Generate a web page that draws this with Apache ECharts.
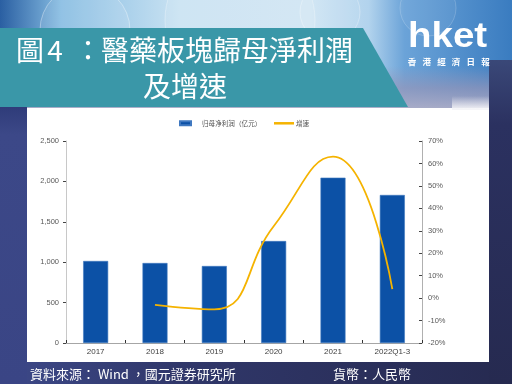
<!DOCTYPE html>
<html><head><meta charset="utf-8">
<script src="https://cdn.jsdelivr.net/npm/echarts@6/dist/echarts.min.js"></script>
<style>html,body{margin:0;padding:0;background:#272a51}#c{width:512px;height:384px}</style>
</head><body><div id="c"></div>
<script>
// ---- data ----
const categories = ['2017', '2018', '2019', '2020', '2021', '2022Q1-3'];
const profit = [1015, 990, 953, 1262, 2046, 1832];      // 归母净利润（亿元）
const growth = [null, -3, -5, 32, 63, 4];               // 增速 (%)
const leftTicks = [0, 500, 1000, 1500, 2000, 2500];
const rightTicks = [-20, -10, 0, 10, 20, 30, 40, 50, 60, 70];
const seriesNames = ['归母净利润（亿元）', '增速'];
const titlePrefix = ['圖', '4', '：'];
const titleMain = '醫藥板塊歸母淨利潤';
const titleLine2 = '及增速';
const sourceText = '資料來源： Wind ，國元證券研究所';
const currencyText = '貨幣：人民幣';
const logoText = 'hket';
const logoSub = ['香', '港', '經', '濟', '日', '報'];

const chart = echarts.init(document.getElementById('c'), null, {renderer: 'canvas'});
const TC = '"Noto Sans CJK TC", "Noto Sans", sans-serif';
const SC = '"Noto Sans CJK SC", "Noto Sans", sans-serif';
const AR = '"Liberation Sans", Arial, sans-serif';

const lg = (x0, y0, x1, y1, stops) => new echarts.graphic.LinearGradient(x0, y0, x1, y1,
  stops.map(c => ({offset: c[0], color: c[1]})));

const graphics = [
  {type: 'rect', z: -100, shape: {x: 0, y: 0, width: 512, height: 384},
    style: {fill: lg(0, 0, 1, 0, [[0, '#3d4989'], [0.35, '#30376a'], [1, '#262a50']])}},
  {type: 'rect', z: -99, shape: {x: 0, y: 0, width: 512, height: 110},
    style: {fill: lg(0, 0, 1, 0, [[0, '#2a5fa2'], [0.12, '#86bce2'], [0.35, '#c9e2f2'], [0.6, '#cfe5f3'], [0.72, '#b2d3ed'], [0.79, '#6ba3d8'], [1, '#3a7cc0']])}},
  {type: 'rect', z: -98, shape: {x: 0, y: 66, width: 512, height: 44},
    style: {fill: lg(0, 0, 0, 1, [[0, 'rgba(150,150,185,0)'], [0.5, 'rgba(150,150,185,0.7)'], [1, 'rgba(175,175,200,0.95)']])}},
  {type: 'circle', z: -97, shape: {cx: 85, cy: 30, r: 45}, style: {fill: 'rgba(255,255,255,0.10)', stroke: 'rgba(255,255,255,0.35)', lineWidth: 1}},
  {type: 'circle', z: -97, shape: {cx: 240, cy: 20, r: 75}, style: {fill: 'rgba(255,255,255,0.10)', stroke: 'rgba(255,255,255,0.3)', lineWidth: 1}},
  {type: 'circle', z: -97, shape: {cx: 330, cy: 12, r: 30}, style: {fill: 'rgba(255,255,255,0.08)', stroke: 'rgba(255,255,255,0.3)', lineWidth: 1}},
  {type: 'circle', z: -97, shape: {cx: 428, cy: 8, r: 28}, style: {fill: 'rgba(255,255,255,0.05)', stroke: 'rgba(255,255,255,0.18)', lineWidth: 1}},
  {type: 'rect', z: -96, shape: {x: 489, y: 60, width: 23, height: 324},
    style: {fill: lg(0, 0, 0, 1, [[0, '#3a4878'], [0.2, '#2b3160'], [1, '#262a50']])}},
  {type: 'rect', z: -95, shape: {x: 0, y: 107, width: 27, height: 277},
    style: {fill: lg(0, 0, 0, 1, [[0, '#2f3c7a'], [0.1, '#3c4888'], [1, '#3a4585']])}},
  {type: 'rect', z: -94, shape: {x: 27, y: 108, width: 462, height: 254}, style: {fill: '#ffffff'}},
  {type: 'rect', z: -93, shape: {x: 452, y: 96, width: 37, height: 14},
    style: {fill: lg(0, 0, 0, 1, [[0, 'rgba(235,235,242,0)'], [1, 'rgba(245,245,248,1)']])}},
  {type: 'polygon', z: -90, shape: {points: [[0, 28], [363, 28], [408, 107], [0, 107]]}, style: {fill: '#3a97a8'}},
  {type: 'text', z: 50, style: {text: titlePrefix[0], x: 16, y: 50, font: '28px ' + TC, fill: '#ffffff', verticalAlign: 'middle'}},
  {type: 'text', z: 50, style: {text: titlePrefix[1], x: 55, y: 50, font: '28px ' + TC, fill: '#ffffff', align: 'center', verticalAlign: 'middle'}},
  {type: 'text', z: 50, style: {text: titlePrefix[2], x: 88, y: 50, font: '28px ' + TC, fill: '#ffffff', align: 'center', verticalAlign: 'middle'}},
  {type: 'text', z: 50, style: {text: titleMain, x: 101, y: 50, font: '28px ' + TC, fill: '#ffffff', verticalAlign: 'middle'}},
  {type: 'text', z: 50, style: {text: titleLine2, x: 185, y: 86, font: '28px ' + TC, fill: '#ffffff', align: 'center', verticalAlign: 'middle'}},
  {type: 'text', z: 50, x: 408, y: 37, scaleX: 1.1, style: {text: logoText, x: 0, y: 0, font: 'bold 35px ' + AR, fill: '#ffffff', verticalAlign: 'middle'}},
  {type: 'text', z: 50, style: {text: sourceText, x: 30, y: 374, font: '13px ' + TC, fill: '#ffffff', verticalAlign: 'middle'}},
  {type: 'text', z: 50, style: {text: currencyText, x: 333, y: 374, font: '13px ' + TC, fill: '#ffffff', verticalAlign: 'middle'}}
];
logoSub.forEach((ch, i) => graphics.push({type: 'text', z: 50,
  style: {text: ch, x: 412 + i * 14.7, y: 62, font: 'bold 8.5px ' + TC, fill: '#ffffff', align: 'center', verticalAlign: 'middle'}}));

chart.setOption({
  animation: false,
  backgroundColor: 'transparent',
  graphic: {elements: graphics},
  legend: [
    {data: [{name: seriesNames[0], icon: 'rect'}], left: 179, top: 120, padding: 0, itemWidth: 11, itemHeight: 4, itemGap: 0,
      textStyle: {fontSize: 6.6, color: '#555', fontFamily: SC, padding: [0, 0, 0, 6]}},
    {data: [{name: seriesNames[1], icon: 'rect'}], left: 274, top: 120, padding: 0, itemWidth: 20, itemHeight: 2.5, itemGap: 0,
      textStyle: {fontSize: 6.6, color: '#555', fontFamily: SC, padding: [0, 0, 0, -3]}}
  ],
  grid: {left: 66, right: 90, top: 141, bottom: 41},
  xAxis: {
    type: 'category', data: categories,
    axisLine: {lineStyle: {color: '#a6a6a6', width: 1}},
    axisTick: {show: true, inside: true, length: 3, lineStyle: {color: '#333'}},
    axisLabel: {fontSize: 8, color: '#404040', margin: 5, fontFamily: AR}
  },
  yAxis: [
    {type: 'value', min: leftTicks[0], max: leftTicks[leftTicks.length - 1], interval: leftTicks[1] - leftTicks[0],
      axisLine: {show: true, lineStyle: {color: '#c8c8c8'}},
      axisTick: {show: true, length: 3, lineStyle: {color: '#444'}},
      splitLine: {show: false},
      axisLabel: {fontSize: 7.5, color: '#595959', margin: 7, fontFamily: AR,
        formatter: v => v.toLocaleString('en-US')}},
    {type: 'value', min: rightTicks[0], max: rightTicks[rightTicks.length - 1], interval: rightTicks[1] - rightTicks[0],
      position: 'right',
      axisLine: {show: true, lineStyle: {color: '#b0b0b0'}},
      axisTick: {show: true, inside: true, length: 3, lineStyle: {color: '#444'}},
      splitLine: {show: false},
      axisLabel: {fontSize: 7.5, color: '#595959', margin: 6, fontFamily: AR, formatter: '{value}%'}}
  ],
  series: [
    {name: seriesNames[0], type: 'bar', data: profit, barWidth: 25, yAxisIndex: 0,
      itemStyle: {color: '#0c51a6', borderColor: '#3f78c0', borderWidth: 0.6}},
    {name: seriesNames[1], type: 'line', data: growth, yAxisIndex: 1, smooth: 0.5,
      showSymbol: false, symbol: 'none', connectNulls: false,
      lineStyle: {color: '#f5b300', width: 1.8}, itemStyle: {color: '#f5b300'}}
  ]
});
</script></body></html>
